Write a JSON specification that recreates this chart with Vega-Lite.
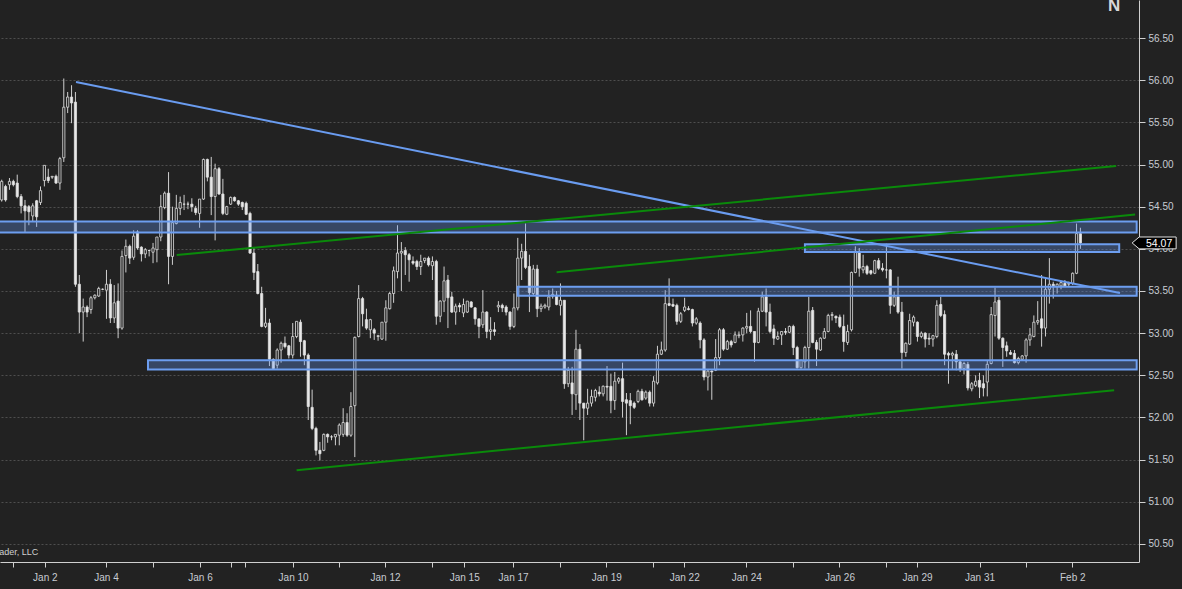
{
"$schema":"https://vega.github.io/schema/vega-lite/v6.json",
"width":1139,"height":562,"autosize":{"type":"none"},"padding":{"left":0,"top":0,"right":43,"bottom":27},
"background":"#222222",
"config":{"view":{"stroke":null},"font":"Liberation Sans"},
"datasets":{
"candles":[
{"i":0,"o":54.58,"h":54.82,"l":54.56,"c":54.80},{"i":1,"o":54.74,"h":54.76,"l":54.56,"c":54.58},{"i":2,"o":54.76,"h":54.84,"l":54.70,"c":54.80},{"i":3,"o":54.80,"h":54.82,"l":54.74,"c":54.76},{"i":4,"o":54.78,"h":54.88,"l":54.60,"c":54.62},{"i":5,"o":54.62,"h":54.65,"l":54.42,"c":54.51},{"i":6,"o":54.51,"h":54.58,"l":54.20,"c":54.45},{"i":7,"o":54.50,"h":54.52,"l":54.28,"c":54.44},{"i":8,"o":54.39,"h":54.54,"l":54.32,"c":54.51},{"i":9,"o":54.57,"h":54.58,"l":54.26,"c":54.38},
{"i":10,"o":54.55,"h":54.74,"l":54.52,"c":54.69},{"i":11,"o":54.81,"h":54.99,"l":54.74,"c":54.99},{"i":12,"o":54.85,"h":54.95,"l":54.78,"c":54.81},{"i":13,"o":54.85,"h":54.86,"l":54.83,"c":54.86},{"i":14,"o":54.86,"h":54.88,"l":54.77,"c":54.78},{"i":15,"o":54.78,"h":55.09,"l":54.70,"c":55.07},{"i":16,"o":55.08,"h":56.02,"l":55.03,"c":55.68},{"i":17,"o":55.68,"h":55.86,"l":55.61,"c":55.80},{"i":18,"o":55.80,"h":55.94,"l":55.49,"c":55.73},{"i":19,"o":55.74,"h":55.86,"l":53.55,"c":53.58},
{"i":20,"o":53.58,"h":53.69,"l":53.00,"c":53.25},{"i":21,"o":53.25,"h":53.41,"l":52.90,"c":53.31},{"i":22,"o":53.31,"h":53.33,"l":53.19,"c":53.25},{"i":23,"o":53.28,"h":53.44,"l":53.23,"c":53.42},{"i":24,"o":53.42,"h":53.46,"l":53.40,"c":53.45},{"i":25,"o":53.44,"h":53.55,"l":53.43,"c":53.53},{"i":26,"o":53.52,"h":53.53,"l":53.51,"c":53.52},{"i":27,"o":53.51,"h":53.75,"l":53.17,"c":53.58},{"i":28,"o":53.58,"h":53.64,"l":53.12,"c":53.18},{"i":29,"o":53.18,"h":53.57,"l":53.12,"c":53.36},
{"i":30,"o":53.38,"h":53.59,"l":52.94,"c":53.06},{"i":31,"o":53.06,"h":53.98,"l":53.04,"c":53.91},{"i":32,"o":53.92,"h":54.11,"l":53.72,"c":54.03},{"i":33,"o":54.03,"h":54.05,"l":53.82,"c":53.89},{"i":34,"o":53.90,"h":54.22,"l":53.87,"c":54.15},{"i":35,"o":54.20,"h":54.22,"l":53.99,"c":54.01},{"i":36,"o":54.02,"h":54.03,"l":53.85,"c":53.94},{"i":37,"o":53.94,"h":54.01,"l":53.89,"c":53.99},{"i":38,"o":53.98,"h":53.99,"l":53.91,"c":53.98},{"i":39,"o":53.96,"h":54.07,"l":53.83,"c":54.01},
{"i":40,"o":53.99,"h":54.14,"l":53.84,"c":54.14},{"i":41,"o":54.14,"h":54.64,"l":54.09,"c":54.50},{"i":42,"o":54.49,"h":54.68,"l":54.47,"c":54.66},{"i":43,"o":54.66,"h":54.91,"l":53.58,"c":53.91},{"i":44,"o":53.91,"h":54.50,"l":53.81,"c":54.31},{"i":45,"o":54.30,"h":54.64,"l":54.29,"c":54.48},{"i":46,"o":54.48,"h":54.62,"l":54.40,"c":54.55},{"i":47,"o":54.53,"h":54.64,"l":54.46,"c":54.53},{"i":48,"o":54.53,"h":54.56,"l":54.47,"c":54.53},{"i":49,"o":54.53,"h":54.60,"l":54.44,"c":54.50},
{"i":50,"o":54.48,"h":54.51,"l":54.40,"c":54.43},{"i":51,"o":54.42,"h":54.59,"l":54.25,"c":54.59},{"i":52,"o":54.59,"h":55.07,"l":54.58,"c":55.06},{"i":53,"o":55.06,"h":55.07,"l":54.80,"c":54.85},{"i":54,"o":54.85,"h":55.09,"l":54.40,"c":54.62},{"i":55,"o":54.62,"h":55.01,"l":54.10,"c":54.95},{"i":56,"o":54.95,"h":54.97,"l":54.64,"c":54.65},{"i":57,"o":54.65,"h":54.83,"l":54.40,"c":54.42},{"i":58,"o":54.41,"h":54.51,"l":54.40,"c":54.50},{"i":59,"o":54.53,"h":54.62,"l":54.52,"c":54.61},
{"i":60,"o":54.61,"h":54.62,"l":54.56,"c":54.57},{"i":61,"o":54.57,"h":54.58,"l":54.51,"c":54.53},{"i":62,"o":54.55,"h":54.56,"l":54.46,"c":54.50},{"i":63,"o":54.54,"h":54.56,"l":54.40,"c":54.41},{"i":64,"o":54.42,"h":54.44,"l":53.94,"c":53.95},{"i":65,"o":53.95,"h":54.02,"l":53.63,"c":53.72},{"i":66,"o":53.73,"h":53.82,"l":53.46,"c":53.47},{"i":67,"o":53.47,"h":53.55,"l":53.07,"c":53.08},{"i":68,"o":53.08,"h":53.30,"l":53.06,"c":53.12},{"i":69,"o":53.12,"h":53.17,"l":52.61,"c":52.69},
{"i":70,"o":52.69,"h":52.70,"l":52.57,"c":52.58},{"i":71,"o":52.62,"h":52.82,"l":52.58,"c":52.80},{"i":72,"o":52.80,"h":52.90,"l":52.65,"c":52.88},{"i":73,"o":52.88,"h":52.96,"l":52.82,"c":52.84},{"i":74,"o":52.85,"h":52.86,"l":52.70,"c":52.74},{"i":75,"o":52.74,"h":53.12,"l":52.70,"c":52.96},{"i":76,"o":52.96,"h":53.14,"l":52.94,"c":53.14},{"i":77,"o":53.13,"h":53.16,"l":52.72,"c":52.90},{"i":78,"o":52.91,"h":52.92,"l":52.62,"c":52.74},{"i":79,"o":52.74,"h":52.76,"l":51.97,"c":52.13},
{"i":80,"o":52.12,"h":52.33,"l":51.85,"c":51.87},{"i":81,"o":51.87,"h":51.89,"l":51.55,"c":51.61},{"i":82,"o":51.61,"h":51.71,"l":51.49,"c":51.57},{"i":83,"o":51.61,"h":51.81,"l":51.60,"c":51.80},{"i":84,"o":51.80,"h":51.81,"l":51.70,"c":51.77},{"i":85,"o":51.77,"h":51.79,"l":51.73,"c":51.77},{"i":86,"o":51.77,"h":51.80,"l":51.67,"c":51.80},{"i":87,"o":51.79,"h":51.93,"l":51.67,"c":51.91},{"i":88,"o":51.80,"h":52.11,"l":51.77,"c":51.94},{"i":89,"o":51.94,"h":52.05,"l":51.77,"c":51.79},
{"i":90,"o":51.79,"h":52.30,"l":51.77,"c":52.13},{"i":91,"o":52.14,"h":52.96,"l":51.53,"c":52.95},{"i":92,"o":52.96,"h":53.57,"l":52.95,"c":53.41},{"i":93,"o":53.41,"h":53.43,"l":53.08,"c":53.23},{"i":94,"o":53.16,"h":53.29,"l":53.04,"c":53.06},{"i":95,"o":53.04,"h":53.17,"l":52.94,"c":53.16},{"i":96,"o":53.04,"h":53.06,"l":52.92,"c":53.00},{"i":97,"o":52.96,"h":52.98,"l":52.91,"c":52.97},{"i":98,"o":52.93,"h":53.13,"l":52.92,"c":53.13},{"i":99,"o":53.13,"h":53.39,"l":52.91,"c":53.30},
{"i":100,"o":53.29,"h":53.49,"l":53.28,"c":53.47},{"i":101,"o":53.47,"h":53.79,"l":53.36,"c":53.74},{"i":102,"o":53.73,"h":54.28,"l":53.65,"c":53.95},{"i":103,"o":53.95,"h":54.08,"l":53.50,"c":53.97},{"i":104,"o":53.98,"h":54.02,"l":53.69,"c":53.93},{"i":105,"o":53.93,"h":53.95,"l":53.61,"c":53.87},{"i":106,"o":53.85,"h":53.91,"l":53.81,"c":53.83},{"i":107,"o":53.85,"h":53.87,"l":53.75,"c":53.79},{"i":108,"o":53.79,"h":53.93,"l":53.69,"c":53.85},{"i":109,"o":53.86,"h":53.89,"l":53.83,"c":53.89},
{"i":110,"o":53.89,"h":53.91,"l":53.79,"c":53.81},{"i":111,"o":53.80,"h":53.91,"l":53.63,"c":53.85},{"i":112,"o":53.85,"h":53.87,"l":53.10,"c":53.20},{"i":113,"o":53.20,"h":53.39,"l":53.13,"c":53.38},{"i":114,"o":53.38,"h":53.79,"l":53.25,"c":53.62},{"i":115,"o":53.63,"h":53.69,"l":53.06,"c":53.42},{"i":116,"o":53.43,"h":53.49,"l":53.24,"c":53.25},{"i":117,"o":53.25,"h":53.35,"l":53.10,"c":53.32},{"i":118,"o":53.33,"h":53.36,"l":53.25,"c":53.31},{"i":119,"o":53.24,"h":53.41,"l":53.19,"c":53.34},
{"i":120,"o":53.25,"h":53.38,"l":53.24,"c":53.38},{"i":121,"o":53.37,"h":53.38,"l":53.30,"c":53.31},{"i":122,"o":53.30,"h":53.31,"l":53.10,"c":53.17},{"i":123,"o":53.17,"h":53.17,"l":52.94,"c":53.08},{"i":124,"o":53.10,"h":53.51,"l":53.06,"c":53.25},{"i":125,"o":53.25,"h":53.26,"l":52.94,"c":53.02},{"i":126,"o":53.02,"h":53.19,"l":52.92,"c":53.04},{"i":127,"o":53.04,"h":53.13,"l":52.97,"c":53.02},{"i":128,"o":53.31,"h":53.38,"l":53.25,"c":53.33},{"i":129,"o":53.33,"h":53.35,"l":53.25,"c":53.30},
{"i":130,"o":53.31,"h":53.33,"l":53.21,"c":53.25},{"i":131,"o":53.25,"h":53.26,"l":53.04,"c":53.08},{"i":132,"o":53.08,"h":53.47,"l":53.06,"c":53.30},{"i":133,"o":53.30,"h":54.13,"l":53.27,"c":53.89},{"i":134,"o":53.89,"h":54.06,"l":53.63,"c":53.97},{"i":135,"o":53.97,"h":54.30,"l":53.76,"c":53.78},{"i":136,"o":53.79,"h":53.93,"l":53.25,"c":53.48},{"i":137,"o":53.47,"h":53.81,"l":53.45,"c":53.76},{"i":138,"o":53.76,"h":53.81,"l":53.19,"c":53.29},{"i":139,"o":53.29,"h":53.35,"l":53.25,"c":53.32},
{"i":140,"o":53.31,"h":53.35,"l":53.29,"c":53.33},{"i":141,"o":53.31,"h":53.51,"l":53.27,"c":53.43},{"i":142,"o":53.44,"h":53.53,"l":53.41,"c":53.46},{"i":143,"o":53.45,"h":53.50,"l":53.33,"c":53.34},{"i":144,"o":53.33,"h":53.59,"l":53.21,"c":53.39},{"i":145,"o":53.39,"h":53.39,"l":52.34,"c":52.40},{"i":146,"o":52.40,"h":52.60,"l":52.36,"c":52.56},{"i":147,"o":52.41,"h":52.60,"l":52.03,"c":52.28},{"i":148,"o":52.27,"h":53.04,"l":52.09,"c":52.81},{"i":149,"o":52.81,"h":52.87,"l":51.97,"c":52.17},
{"i":150,"o":52.17,"h":52.17,"l":51.73,"c":52.11},{"i":151,"o":52.11,"h":52.34,"l":52.03,"c":52.17},{"i":152,"o":52.17,"h":52.33,"l":52.13,"c":52.25},{"i":153,"o":52.24,"h":52.34,"l":52.19,"c":52.32},{"i":154,"o":52.30,"h":52.37,"l":52.25,"c":52.28},{"i":155,"o":52.28,"h":52.38,"l":52.25,"c":52.37},{"i":156,"o":52.37,"h":52.61,"l":52.20,"c":52.36},{"i":157,"o":52.37,"h":52.52,"l":52.05,"c":52.20},{"i":158,"o":52.20,"h":52.54,"l":52.09,"c":52.43},{"i":159,"o":52.43,"h":52.48,"l":52.40,"c":52.46},
{"i":160,"o":52.46,"h":52.65,"l":52.00,"c":52.19},{"i":161,"o":52.21,"h":52.29,"l":51.79,"c":52.17},{"i":162,"o":52.20,"h":52.29,"l":51.92,"c":52.14},{"i":163,"o":52.17,"h":52.19,"l":52.10,"c":52.12},{"i":164,"o":52.19,"h":52.33,"l":52.17,"c":52.31},{"i":165,"o":52.31,"h":52.34,"l":52.20,"c":52.21},{"i":166,"o":52.23,"h":52.32,"l":52.21,"c":52.30},{"i":167,"o":52.30,"h":52.32,"l":52.13,"c":52.17},{"i":168,"o":52.17,"h":52.49,"l":52.13,"c":52.43},{"i":169,"o":52.41,"h":52.85,"l":52.39,"c":52.75},
{"i":170,"o":52.75,"h":52.90,"l":52.74,"c":52.80},{"i":171,"o":52.80,"h":53.51,"l":52.78,"c":53.35},{"i":172,"o":53.35,"h":53.65,"l":53.32,"c":53.33},{"i":173,"o":53.34,"h":53.41,"l":53.31,"c":53.32},{"i":174,"o":53.33,"h":53.35,"l":53.10,"c":53.14},{"i":175,"o":53.14,"h":53.25,"l":53.12,"c":53.23},{"i":176,"o":53.27,"h":53.42,"l":53.25,"c":53.31},{"i":177,"o":53.29,"h":53.32,"l":53.27,"c":53.28},{"i":178,"o":53.28,"h":53.29,"l":53.08,"c":53.12},{"i":179,"o":53.12,"h":53.19,"l":53.10,"c":53.17},
{"i":180,"o":53.12,"h":53.14,"l":52.82,"c":52.92},{"i":181,"o":52.92,"h":52.94,"l":52.44,"c":52.48},{"i":182,"o":52.48,"h":52.57,"l":52.32,"c":52.55},{"i":183,"o":52.55,"h":52.56,"l":52.21,"c":52.54},{"i":184,"o":52.56,"h":52.93,"l":52.55,"c":52.71},{"i":185,"o":52.71,"h":53.06,"l":52.62,"c":53.04},{"i":186,"o":53.04,"h":53.06,"l":52.79,"c":52.81},{"i":187,"o":52.81,"h":52.92,"l":52.80,"c":52.90},{"i":188,"o":52.90,"h":52.92,"l":52.83,"c":52.86},{"i":189,"o":52.89,"h":53.02,"l":52.88,"c":52.98},
{"i":190,"o":52.97,"h":53.02,"l":52.94,"c":52.98},{"i":191,"o":52.98,"h":53.07,"l":52.90,"c":53.06},{"i":192,"o":53.06,"h":53.24,"l":53.00,"c":53.08},{"i":193,"o":53.08,"h":53.27,"l":53.00,"c":53.02},{"i":194,"o":53.02,"h":53.02,"l":52.66,"c":52.89},{"i":195,"o":52.89,"h":53.30,"l":52.88,"c":53.26},{"i":196,"o":53.26,"h":53.49,"l":53.25,"c":53.43},{"i":197,"o":53.43,"h":53.53,"l":53.08,"c":53.25},{"i":198,"o":53.25,"h":53.35,"l":53.00,"c":53.02},{"i":199,"o":53.05,"h":53.10,"l":52.86,"c":52.94},
{"i":200,"o":52.93,"h":53.02,"l":52.92,"c":52.96},{"i":201,"o":52.98,"h":53.02,"l":52.86,"c":53.02},{"i":202,"o":53.02,"h":53.06,"l":52.98,"c":53.01},{"i":203,"o":53.01,"h":53.09,"l":53.00,"c":53.08},{"i":204,"o":53.08,"h":53.10,"l":52.74,"c":52.83},{"i":205,"o":52.83,"h":52.85,"l":52.58,"c":52.59},{"i":206,"o":52.59,"h":52.68,"l":52.58,"c":52.68},{"i":207,"o":52.66,"h":52.85,"l":52.58,"c":52.83},{"i":208,"o":52.83,"h":53.43,"l":52.58,"c":53.26},{"i":209,"o":53.27,"h":53.31,"l":52.88,"c":52.89},
{"i":210,"o":52.89,"h":52.92,"l":52.61,"c":52.81},{"i":211,"o":52.80,"h":52.95,"l":52.79,"c":52.94},{"i":212,"o":52.94,"h":53.06,"l":52.93,"c":53.02},{"i":213,"o":53.02,"h":53.23,"l":53.01,"c":53.21},{"i":214,"o":53.21,"h":53.25,"l":53.15,"c":53.22},{"i":215,"o":53.20,"h":53.21,"l":53.12,"c":53.18},{"i":216,"o":53.19,"h":53.22,"l":53.06,"c":53.08},{"i":217,"o":53.08,"h":53.22,"l":52.78,"c":52.90},{"i":218,"o":52.89,"h":53.10,"l":52.86,"c":53.02},{"i":219,"o":53.04,"h":53.73,"l":53.02,"c":53.72},
{"i":220,"o":53.72,"h":54.03,"l":53.71,"c":53.97},{"i":221,"o":53.96,"h":54.01,"l":53.67,"c":53.77},{"i":222,"o":53.75,"h":53.93,"l":53.71,"c":53.79},{"i":223,"o":53.79,"h":53.81,"l":53.69,"c":53.71},{"i":224,"o":53.74,"h":53.75,"l":53.69,"c":53.71},{"i":225,"o":53.71,"h":53.87,"l":53.70,"c":53.86},{"i":226,"o":53.86,"h":53.89,"l":53.75,"c":53.77},{"i":227,"o":53.77,"h":53.83,"l":53.73,"c":53.75},{"i":228,"o":53.75,"h":54.06,"l":53.65,"c":53.75},{"i":229,"o":53.75,"h":53.76,"l":53.23,"c":53.33},
{"i":230,"o":53.33,"h":53.49,"l":53.31,"c":53.43},{"i":231,"o":53.43,"h":53.67,"l":53.23,"c":53.25},{"i":232,"o":53.25,"h":53.37,"l":52.58,"c":52.77},{"i":233,"o":52.77,"h":52.89,"l":52.72,"c":52.88},{"i":234,"o":52.87,"h":53.23,"l":52.86,"c":53.15},{"i":235,"o":53.13,"h":53.21,"l":53.08,"c":53.19},{"i":236,"o":53.13,"h":53.14,"l":52.90,"c":52.96},{"i":237,"o":52.96,"h":53.02,"l":52.94,"c":53.00},{"i":238,"o":53.00,"h":53.01,"l":52.83,"c":52.93},{"i":239,"o":52.94,"h":53.00,"l":52.86,"c":52.93},
{"i":240,"o":52.93,"h":52.98,"l":52.84,"c":52.97},{"i":241,"o":52.96,"h":53.39,"l":52.94,"c":53.33},{"i":242,"o":53.34,"h":53.43,"l":53.19,"c":53.21},{"i":243,"o":53.22,"h":53.27,"l":52.62,"c":52.75},{"i":244,"o":52.76,"h":52.78,"l":52.40,"c":52.74},{"i":245,"o":52.74,"h":52.78,"l":52.57,"c":52.76},{"i":246,"o":52.75,"h":52.80,"l":52.56,"c":52.66},{"i":247,"o":52.66,"h":52.68,"l":52.54,"c":52.57},{"i":248,"o":52.58,"h":52.66,"l":52.51,"c":52.64},{"i":249,"o":52.63,"h":52.66,"l":52.32,"c":52.35},
{"i":250,"o":52.34,"h":52.42,"l":52.31,"c":52.40},{"i":251,"o":52.38,"h":52.50,"l":52.36,"c":52.43},{"i":252,"o":52.44,"h":52.53,"l":52.23,"c":52.36},{"i":253,"o":52.40,"h":52.50,"l":52.25,"c":52.35},{"i":254,"o":52.42,"h":52.67,"l":52.25,"c":52.63},{"i":255,"o":52.64,"h":53.31,"l":52.63,"c":53.22},{"i":256,"o":53.21,"h":53.54,"l":52.96,"c":53.37},{"i":257,"o":53.39,"h":53.43,"l":52.92,"c":52.94},{"i":258,"o":52.94,"h":52.95,"l":52.60,"c":52.83},{"i":259,"o":52.85,"h":52.90,"l":52.72,"c":52.79},
{"i":260,"o":52.77,"h":52.80,"l":52.74,"c":52.75},{"i":261,"o":52.76,"h":52.80,"l":52.64,"c":52.65},{"i":262,"o":52.65,"h":52.72,"l":52.63,"c":52.70},{"i":263,"o":52.69,"h":52.74,"l":52.68,"c":52.73},{"i":264,"o":52.73,"h":52.94,"l":52.65,"c":52.92},{"i":265,"o":52.92,"h":53.06,"l":52.85,"c":52.98},{"i":266,"o":52.96,"h":53.21,"l":52.95,"c":53.13},{"i":267,"o":53.13,"h":53.38,"l":53.10,"c":53.15},{"i":268,"o":53.17,"h":53.69,"l":52.84,"c":53.06},{"i":269,"o":53.06,"h":53.65,"l":52.96,"c":53.52},
{"i":270,"o":53.52,"h":53.89,"l":53.35,"c":53.58},{"i":271,"o":53.58,"h":53.61,"l":53.41,"c":53.56},{"i":272,"o":53.55,"h":53.59,"l":53.47,"c":53.58},{"i":273,"o":53.56,"h":53.62,"l":53.52,"c":53.60},{"i":274,"o":53.59,"h":53.63,"l":53.55,"c":53.56},{"i":275,"o":53.58,"h":53.61,"l":53.55,"c":53.59},{"i":276,"o":53.59,"h":53.72,"l":53.57,"c":53.71},{"i":277,"o":53.71,"h":54.30,"l":53.70,"c":54.18},{"i":278,"o":54.18,"h":54.25,"l":54.00,"c":54.07}
],
"zones":[
{"x1":-1,"x2":292.5,"y1":54.323,"y2":54.193},
{"x1":37.7,"x2":292.5,"y1":52.680,"y2":52.570},
{"x1":133.0,"x2":292.5,"y1":53.550,"y2":53.443},
{"x1":207.0,"x2":288.0,"y1":54.053,"y2":53.961}
],
"lines":[
{"kind":"down","x1":19.15,"y1":55.978,"x2":288.2,"y2":53.475},
{"kind":"up","x1":45.1,"y1":53.926,"x2":287.2,"y2":54.982},
{"kind":"up","x1":143.0,"y1":53.721,"x2":292.1,"y2":54.406},
{"kind":"up","x1":76.0,"y1":51.375,"x2":286.7,"y2":52.324}
],
"last":[{"i":297.0,"p":54.07,"label":"54.07"}]
},
"layer":[
{"data":{"name":"candles"},
 "mark":{"type":"rule","color":"#cfcfcf","strokeWidth":1},
 "encoding":{
  "x":{"field":"i","type":"quantitative","scale":{"domain":[-0.44,293.1],"nice":false,"zero":false,"padding":0},
   "axis":{"orient":"bottom","title":null,"grid":false,
    "values":[2.81,11.11,26.88,39,51.1,59.1,62.7,75.1,86.9,98.8,110.9,119.2,131.8,143.9,155.8,167.9,175.9,191.9,204,215.9,228,235.9,252,264,275.9],
    "labelExpr":"['','Jan 2','Jan 4','','Jan 6','','','Jan 10','','Jan 12','','Jan 15','Jan 17','','Jan 19','','Jan 22','Jan 24','','Jan 26','','Jan 29','Jan 31','','Feb 2'][indexof([2.81,11.11,26.88,39,51.1,59.1,62.7,75.1,86.9,98.8,110.9,119.2,131.8,143.9,155.8,167.9,175.9,191.9,204,215.9,228,235.9,252,264,275.9], datum.value)]",
    "domainColor":"#d0d0d0","domainWidth":1,"tickColor":"#d0d0d0","tickSize":5,"tickWidth":1,
    "labelColor":"#c8ccd2","labelFontSize":10,"labelFont":"Liberation Sans","labelPadding":5,"labelOverlap":false,"labelFlush":false}},
  "y":{"field":"l","type":"quantitative","scale":{"domain":[50.286,56.951],"nice":false,"zero":false,"padding":0},
   "axis":{"orient":"right","title":null,"grid":true,"gridColor":"#4e4e4e","gridDash":[2,2],"gridWidth":1,
    "values":[50.5,50.75,51,51.25,51.5,51.75,52,52.25,52.5,52.75,53,53.25,53.5,53.75,54,54.25,54.5,54.75,55,55.25,55.5,55.75,56,56.25,56.5,56.75],
    "labelExpr":"datum.value % 0.5 === 0 ? format(datum.value, '.2f') : ''",
    "tickOpacity":{"condition":{"test":"datum.value % 0.5 === 0","value":1},"value":0},
    "domainColor":"#d0d0d0","domainWidth":1,"tickColor":"#d0d0d0","tickSize":6,"tickWidth":1,
    "labelColor":"#c8ccd2","labelFontSize":10,"labelFont":"Liberation Sans","labelPadding":3,"labelOverlap":false,"labelFlush":false}},
  "y2":{"field":"h"}}},
{"data":{"name":"candles"},
 "mark":{"type":"bar","size":2.2,"stroke":"#e0e0e0","strokeWidth":0.8},
 "encoding":{
  "x":{"field":"i","type":"quantitative"},
  "y":{"field":"o","type":"quantitative"},
  "y2":{"field":"c"},
  "fill":{"condition":{"test":"datum.o > datum.c","value":"#e8e8e8"},"value":"#222222"}}},
{"data":{"name":"zones"},
 "mark":{"type":"rect","fill":"#6495ED","fillOpacity":0.33,"stroke":"#6d9ef0","strokeWidth":2},
 "encoding":{
  "x":{"field":"x1","type":"quantitative"},"x2":{"field":"x2"},
  "y":{"field":"y1","type":"quantitative"},"y2":{"field":"y2"}}},
{"data":{"name":"lines"},
 "mark":{"type":"rule","strokeWidth":2},
 "encoding":{
  "x":{"field":"x1","type":"quantitative"},"x2":{"field":"x2"},
  "y":{"field":"y1","type":"quantitative"},"y2":{"field":"y2"},
  "color":{"field":"kind","type":"nominal","scale":{"domain":["down","up"],"range":["#6a9cf0","#0a8a0a"]},"legend":null}}},
{"data":{"name":"last"},
 "mark":{"type":"point","filled":true,"fill":"#000000","stroke":"#e0e0e0","strokeWidth":1,"opacity":1,"size":1936,
  "shape":"M -1 0 L -0.68 -0.27 L 1 -0.27 L 1 0.27 L -0.68 0.27 Z"},
 "encoding":{"x":{"field":"i","type":"quantitative"},"y":{"field":"p","type":"quantitative"}}},
{"data":{"name":"last"},
 "mark":{"type":"text","color":"#ffffff","fontSize":10.5,"font":"Liberation Sans","align":"center","baseline":"middle","dx":5,"dy":1},
 "encoding":{"x":{"field":"i","type":"quantitative"},"y":{"field":"p","type":"quantitative"},"text":{"field":"label"}}},
{"data":{"values":[{"i":9.4,"p":50.40,"t":"ader, LLC"}]},
 "mark":{"type":"text","color":"#d0d0d0","fontSize":9,"font":"Liberation Sans","align":"right","baseline":"middle"},
 "encoding":{"x":{"field":"i","type":"quantitative"},"y":{"field":"p","type":"quantitative"},"text":{"field":"t"}}},
{"data":{"values":[{"i":286.7,"p":56.82,"t":"N"}]},
 "mark":{"type":"text","color":"#d8d8d8","fontSize":17,"fontWeight":"bold","font":"Liberation Sans","align":"center","baseline":"alphabetic"},
 "encoding":{"x":{"field":"i","type":"quantitative"},"y":{"field":"p","type":"quantitative"},"text":{"field":"t"}}}
]
}
